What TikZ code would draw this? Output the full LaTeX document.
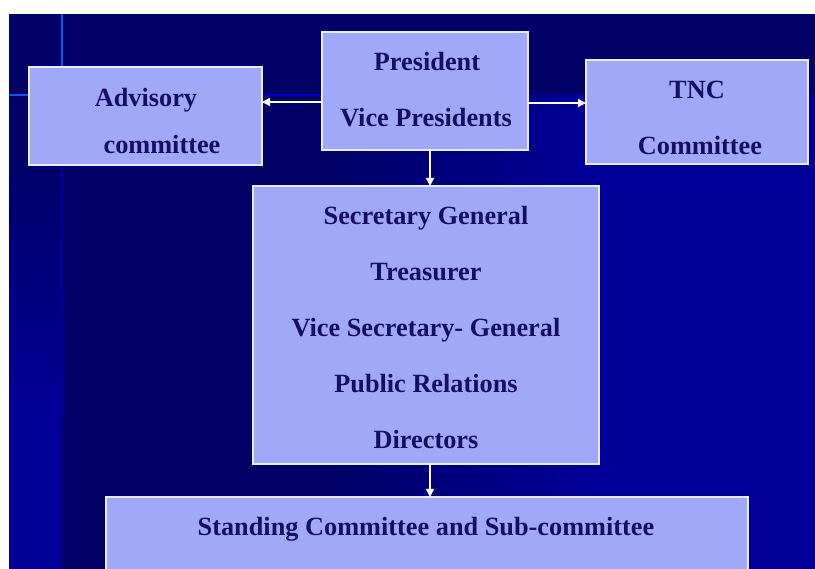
\documentclass[tikz,border=0pt]{standalone}
\usepackage{fontspec}
\setmainfont{Liberation Serif}
\usetikzlibrary{arrows.meta}
\definecolor{bgdark}{RGB}{0,0,102}
\definecolor{bgbright}{RGB}{0,0,153}
\definecolor{boxfill}{RGB}{160,168,250}
\definecolor{boxline}{RGB}{235,235,255}
\definecolor{txt}{RGB}{22,14,96}
\definecolor{glowA}{RGB}{0,90,240}
\definecolor{glowB}{RGB}{0,0,190}
\tikzset{
  box/.style={draw=boxline, line width=1.3pt, fill=boxfill, rectangle, inner sep=0pt, outer sep=0pt},
  lbl/.style={anchor=base, inner sep=0pt, text=txt, font=\fontsize{26.3}{30}\selectfont\bfseries},
  conn/.style={draw=white, line width=1.3pt, -{Triangle[length=8pt,width=8pt]}}
}
\begin{document}
\begin{tikzpicture}[x=1pt,y=-1pt]
\useasboundingbox (0,0) rectangle (815,569);
% background
\fill[white] (0,0) rectangle (815,569);
\fill[bgdark] (9,14) rectangle (815,569);
\shade[top color=bgdark, bottom color=bgbright] (9,150) rectangle (62,420);
\fill[bgbright] (9,420) rectangle (62,569);
\shade[left color=bgdark, right color=bgbright] (330,95) rectangle (600,569);
\fill[bgbright] (600,95) rectangle (815,569);
\draw[glowA, line width=2pt] (62,14) -- (62,67);
\draw[glowA, line width=2pt] (9,95) -- (29,95);
\draw[glowB, line width=2pt] (262,95) -- (322,95);
\draw[glowB!70!bgdark, line width=1.5pt] (62,165) -- (62,420);

% boxes
\node[box, minimum width=233pt, minimum height=98pt] (adv) at (145.5,116) {};
\node[box, minimum width=206pt, minimum height=118pt] (pres) at (425,91) {};
\node[box, minimum width=222pt, minimum height=104pt] (tnc) at (697,112) {};
\node[box, minimum width=346pt, minimum height=278pt] (sec) at (426,325) {};
\node[box, minimum width=642pt, minimum height=80pt] (stand) at (427,537) {};

% texts
\node[lbl] (adv1) at (146,107) {Advisory};
\node[lbl] (adv2) at (162,154) {committee};
\node[lbl] (pres1) at (427,71) {President};
\node[lbl] (pres2) at (426,127) {Vice Presidents};
\node[lbl] (tnc1) at (697,99) {TNC};
\node[lbl] (tnc2) at (700,155) {Committee};
\node[lbl] (sec1) at (426,225) {Secretary General};
\node[lbl] (sec2) at (426,281) {Treasurer};
\node[lbl] (sec3) at (426,337) {Vice Secretary- General};
\node[lbl] (sec4) at (426,393) {Public Relations};
\node[lbl] (sec5) at (426,449) {Directors};
\node[lbl] (stand1) at (426,536) {Standing Committee and Sub-committee};

% connectors
\draw[conn] (pres.west |- 0,102) -- (adv.east |- 0,102);
\draw[conn] (pres.east |- 0,103) -- (tnc.west |- 0,103);
\draw[conn] (pres.south -| 430,0) -- (sec.north -| 430,0);
\draw[conn] (sec.south -| 430,0) -- (stand.north -| 430,0);
\end{tikzpicture}
\end{document}
